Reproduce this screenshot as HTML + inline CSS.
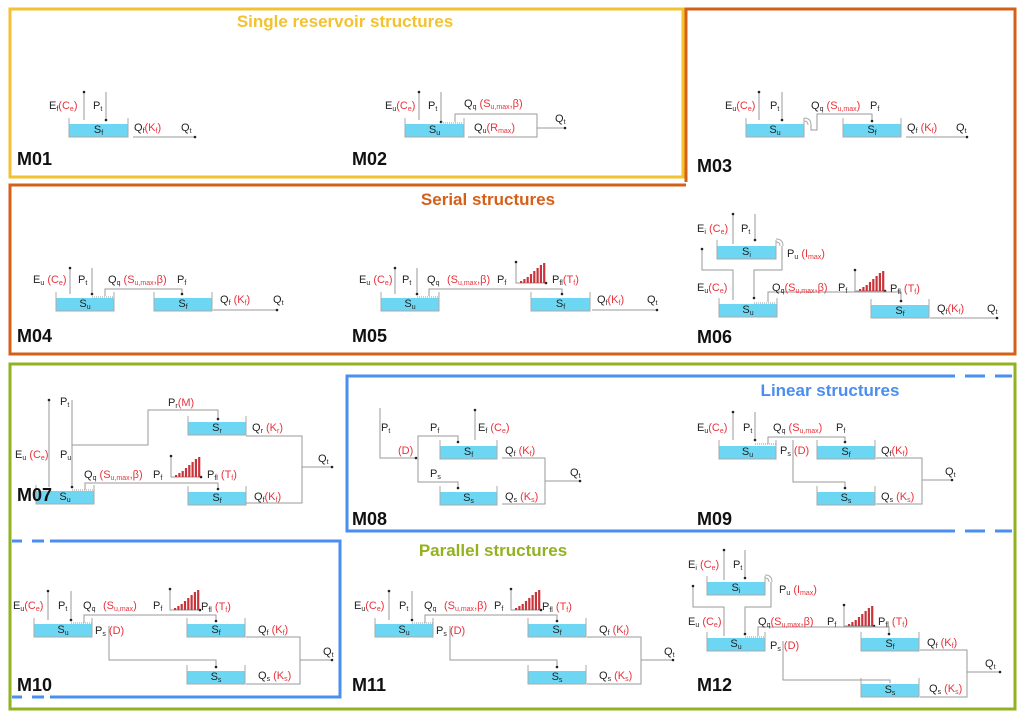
<!DOCTYPE html>
<html><head><meta charset="utf-8">
<style>
body{margin:0;width:1024px;height:719px;background:#fff;overflow:hidden;position:relative;font-family:"Liberation Sans",Arial,sans-serif}
svg{position:absolute;left:0;top:0}
.t{position:absolute;font-size:11px;line-height:14px;color:#222;white-space:nowrap}
.t i{font-style:normal;color:#e8323c}
.t sub{font-size:7px;vertical-align:-2px;line-height:0}
.m{position:absolute;font-size:18px;font-weight:bold;color:#111}
.h{position:absolute;font-size:17px;font-weight:bold;transform:translateX(-50%)}
.rl{position:absolute;font-size:11px;text-align:center;line-height:13px;color:#222}
.rl sub{font-size:7px;vertical-align:-2px;line-height:0}
</style></head>
<body>
<svg id="s" width="1024" height="719">
<polygon points="10,9 683,9 683,177 10,177" fill="none" stroke="#f2c230" stroke-width="3"/>
<polyline points="686,182 686,9 1015,9 1015,354 10,354 10,185 686,185" fill="none" stroke="#d4601a" stroke-width="3"/>
<rect x="10" y="364" width="1005" height="345" fill="none" stroke="#93b21f" stroke-width="3"/>
<polyline points="955,376 347,376 347,531 955,531" fill="none" stroke="#4a8ef0" stroke-width="3"/>
<path d="M965 376H985M995 376H1012M965 531H985M995 531H1012" stroke="#4a8ef0" stroke-width="3"/>
<polyline points="50,541 340,541 340,697 50,697" fill="none" stroke="#4a8ef0" stroke-width="3"/>
<path d="M12 541H22M32 541H44M12 697H22M32 697H44" stroke="#4a8ef0" stroke-width="3"/>
</svg>
<div class="h" style="left:345px;top:12px;color:#f2c230">Single reservoir structures</div>
<div class="h" style="left:488px;top:190px;color:#d4601a">Serial structures</div>
<div class="h" style="left:830px;top:381px;color:#4a8ef0">Linear structures</div>
<div class="h" style="left:493px;top:541px;color:#93b21f">Parallel structures</div>
<script>
const histHeights=[2,4,6,9,12,15,18,20];
const NS="http://www.w3.org/2000/svg";
const S=document.getElementById('s');
function svgEl(tag,attrs,name){const e=document.createElementNS(NS,tag);for(const k in attrs)e.setAttribute(k,attrs[k]);


S.appendChild(e);return e;}
function L(pts,name){svgEl('polyline',{points:pts.map(p=>p.join(',')).join(' '),fill:'none',stroke:'#9a9a9a','stroke-width':1},name||'flow-line');}
function dot(x,y){svgEl('circle',{cx:x,cy:y,r:1.3,fill:'#222'},'arrow-head');}
function V(x,y1,y2,up){L([[x,y1],[x,y2]],'flux-line');dot(x,up?y1:y2);}
function T(x,y,html,name){const d=document.createElement('div');d.className='t';d.style.left=x+'px';d.style.top=(y-7)+'px';d.innerHTML=html;


document.body.appendChild(d);}
function M(x,y,txt){const d=document.createElement('div');d.className='m';d.style.left=x+'px';d.style.top=(y-11)+'px';d.textContent=txt;


document.body.appendChild(d);}
function R(x,y,w,lab,h){h=h||13;
svgEl('rect',{x:x,y:y,width:w,height:h,fill:'#6dd7f3'},'reservoir-'+lab);
svgEl('polyline',{points:`${x},${y-6} ${x},${y+h} ${x+w},${y+h} ${x+w},${y-6}`,fill:'none',stroke:'#aaa','stroke-width':1},'reservoir-wall');
const d=document.createElement('div');d.className='rl';d.style.left=x+'px';d.style.width=w+'px';d.style.top=y+'px';d.innerHTML='S<sub>'+lab+'</sub>';


document.body.appendChild(d);}
function Hg(x,yb){L([[x,yb-21],[x,yb],[x+30,yb]],'lag-axis');dot(x,yb-21);dot(x+30,yb);
histHeights.forEach((v,i)=>{svgEl('rect',{x:x+4+i*3.3,y:yb-v,width:2.2,height:v,fill:'#c9343a'},'lag-bar');});}
function ov(x,y){svgEl('path',{d:`M${x} ${y} q7 0 7 7`,fill:'none',stroke:'#aaa'},'overflow');svgEl('path',{d:`M${x} ${y+3} q4 0 4 4`,fill:'none',stroke:'#aaa'},'overflow');}
function dots(x1,x2,y){svgEl('line',{x1:x1,x2:x2,y1:y,y2:y,stroke:'#999','stroke-dasharray':'1,1'},'threshold');}

// M01
R(69,124,59,'f');T(49,106,'E<sub>f</sub><i>(C<sub>e</sub>)</i>');T(93,106,'P<sub>t</sub>');
V(84,92,120,true);V(106,92,120,false);T(134,128,'Q<sub>f</sub><i>(K<sub>f</sub>)</i>');T(181,128,'Q<sub>t</sub>');
L([[133,137],[195,137]]);dot(195,137);M(17,160,'M01');
// M02
R(405,124,59,'u');T(385,106,'E<sub>u</sub><i>(C<sub>e</sub>)</i>');T(428,106,'P<sub>t</sub>');
V(419,92,120,true);V(441,92,122,false);dots(441,463,123);
T(464,104,'Q<sub>q</sub> <i>(S<sub>u,max</sub>,β)</i>');T(474,128,'Q<sub>u</sub><i>(R<sub>max</sub>)</i>');
L([[455,122],[455,114],[537,114],[537,137],[468,137]]);L([[537,128],[565,128]]);dot(565,128);T(555,119,'Q<sub>t</sub>');M(352,160,'M02');
// M03
R(746,124,58,'u');R(843,124,58,'f');T(725,106,'E<sub>u</sub><i>(C<sub>e</sub>)</i>');T(770,106,'P<sub>t</sub>');
V(759,92,120,true);V(782,92,120,false);ov(804,118);L([[811,125],[811,130],[817,130],[817,114],[872,114],[872,121]]);dot(872,121);
T(811,106,'Q<sub>q</sub> <i>(S<sub>u,max</sub>)</i>');T(870,106,'P<sub>f</sub>');T(907,128,'Q<sub>f</sub> <i>(K<sub>f</sub>)</i>');T(956,128,'Q<sub>t</sub>');
L([[906,137],[967,137]]);dot(967,137);M(697,167,'M03');
// M04
R(56,298,58,'u');R(154,298,58,'f');T(33,280,'E<sub>u</sub> <i>(C<sub>e</sub>)</i>');T(78,280,'P<sub>t</sub>');
V(70,268,294,true);V(92,268,294,false);dots(92,113,297);L([[105,296],[105,289],[182,289],[182,294]]);dot(182,294);
T(108,280,'Q<sub>q</sub> <i>(S<sub>u,max</sub>,β)</i>');T(177,280,'P<sub>f</sub>');T(220,300,'Q<sub>f</sub> <i>(K<sub>f</sub>)</i>');T(273,300,'Q<sub>t</sub>');
L([[213,310],[277,310]]);dot(277,310);M(17,337,'M04');
// M05
R(381,298,58,'u');R(531,298,59,'f');T(359,280,'E<sub>u</sub> <i>(C<sub>e</sub>)</i>');T(402,280,'P<sub>t</sub>');
V(395,268,294,true);V(417,268,294,false);dots(417,438,297);L([[429,296],[429,289],[562,289],[562,294]]);dot(562,294);
T(427,280,'Q<sub>q</sub>');T(447,280,'<i>(S<sub>u,max</sub>,β)</i>');T(497,280,'P<sub>f</sub>');Hg(516,283);T(552,280,'P<sub>fl</sub><i>(T<sub>f</sub>)</i>');
T(597,300,'Q<sub>f</sub><i>(K<sub>f</sub>)</i>');T(647,300,'Q<sub>t</sub>');L([[592,310],[657,310]]);dot(657,310);M(352,337,'M05');
// M06
R(717,246,59,'i');T(697,229,'E<sub>i</sub> <i>(C<sub>e</sub>)</i>');T(741,229,'P<sub>t</sub>');
V(733,214,244,true);V(755,214,240,false);ov(776,239);T(787,254,'P<sub>u</sub> <i>(I<sub>max</sub>)</i>');
L([[702,249],[702,270],[733,270],[733,300]]);dot(702,249);L([[782,246],[782,270],[754,270],[754,298]]);dot(754,298);
R(719,304,58,'u');T(697,288,'E<sub>u</sub><i>(C<sub>e</sub>)</i>');dots(754,776,303);
T(772,288,'Q<sub>q</sub><i>(S<sub>u,max</sub>,β)</i>');T(838,288,'P<sub>f</sub>');Hg(855,291);T(890,289,'P<sub>fl</sub> <i>(T<sub>f</sub>)</i>');
L([[768,302],[768,292],[901,292],[901,301]]);dot(901,301);R(871,305,58,'f');
T(937,309,'Q<sub>f</sub><i>(K<sub>f</sub>)</i>');T(987,309,'Q<sub>t</sub>');L([[930,318],[997,318]]);dot(997,318);M(697,338,'M06');
// M07
R(36,491,58,'u');R(188,422,58,'r');R(188,492,58,'f');T(15,455,'E<sub>u</sub> <i>(C<sub>e</sub>)</i>');T(60,402,'P<sub>t</sub>');T(60,455,'P<sub>u</sub>');
V(49,400,487,true);V(72,400,487,false);dots(72,93,490);T(168,403,'P<sub>r</sub><i>(M)</i>');
L([[72,445],[148,445],[148,410],[218,410],[218,419]]);dot(218,419);T(252,428,'Q<sub>r</sub> <i>(K<sub>r</sub>)</i>');
T(84,475,'Q<sub>q</sub> <i>(S<sub>u,max</sub>,β)</i>');T(153,475,'P<sub>f</sub>');Hg(171,477);T(207,475,'P<sub>fl</sub> <i>(T<sub>f</sub>)</i>');
L([[85,490],[85,483],[218,483],[218,489]]);dot(218,489);T(254,497,'Q<sub>f</sub><i>(K<sub>f</sub>)</i>');
L([[246,436],[302,436],[302,503],[246,503]]);L([[302,467],[332,467]]);dot(332,467);T(318,459,'Q<sub>t</sub>');M(17,496,'M07');
// M08
R(440,446,57,'f');R(440,492,57,'s');T(381,428,'P<sub>t</sub>');L([[380,408],[380,458],[416,458]]);dot(416,458);T(398,451,'<i>(D)</i>');
T(430,428,'P<sub>f</sub>');L([[418,458],[418,436],[458,436],[458,442]]);dot(458,442);
T(430,474,'P<sub>s</sub>');L([[418,458],[418,482],[458,482],[458,488]]);dot(458,488);
T(478,428,'E<sub>f</sub> <i>(C<sub>e</sub>)</i>');V(475,410,440,true);
T(505,451,'Q<sub>f</sub> <i>(K<sub>f</sub>)</i>');T(505,497,'Q<sub>s</sub> <i>(K<sub>s</sub>)</i>');
L([[502,458],[545,458],[545,504],[502,504]]);L([[545,481],[580,481]]);dot(580,481);T(570,473,'Q<sub>t</sub>');M(352,520,'M08');
// M09
R(719,446,57,'u');R(817,446,58,'f');R(817,492,58,'s');T(697,428,'E<sub>u</sub><i>(C<sub>e</sub>)</i>');T(743,428,'P<sub>t</sub>');
V(733,412,440,true);V(755,412,440,false);dots(755,776,444);
T(773,428,'Q<sub>q</sub> <i>(S<sub>u,max</sub>)</i>');T(836,428,'P<sub>f</sub>');L([[768,444],[768,437],[845,437],[845,442]]);dot(845,442);
T(780,451,'P<sub>s</sub> <i>(D)</i>');L([[793,440],[793,482],[845,482],[845,488]]);dot(845,488);
T(881,451,'Q<sub>f</sub><i>(K<sub>f</sub>)</i>');T(881,497,'Q<sub>s</sub> <i>(K<sub>s</sub>)</i>');
L([[876,458],[922,458],[922,504],[876,504]]);L([[922,480],[952,480]]);dot(952,480);T(945,472,'Q<sub>t</sub>');M(697,520,'M09');
// M10..M11
function par(o,beta){
 R(34+o,624,58,'u');R(187+o,624,58,'f');R(187+o,671,58,'s');
 T(13+o,606,'E<sub>u</sub><i>(C<sub>e</sub>)</i>');T(58+o,606,'P<sub>t</sub>');V(48+o,591,620,true);V(71+o,591,620,false);dots(71+o,92+o,623);
 T(83+o,606,'Q<sub>q</sub>');T(103+o,606,'<i>(S<sub>u,max</sub>'+(beta?',β':'')+')</i>');T(153+o,606,'P<sub>f</sub>');Hg(170+o,610);
 T(201+o,607,'P<sub>fl</sub> <i>(T<sub>f</sub>)</i>');L([[84+o,623],[84+o,615],[216+o,615],[216+o,621]]);dot(216+o,621);
 T(95+o,631,'P<sub>s</sub> <i>(D)</i>');L([[109+o,626],[109+o,660],[216+o,660],[216+o,667]]);dot(216+o,667);
 T(258+o,630,'Q<sub>f</sub> <i>(K<sub>f</sub>)</i>');T(258+o,676,'Q<sub>s</sub> <i>(K<sub>s</sub>)</i>');
 L([[246+o,637],[300+o,637],[300+o,684],[246+o,684]]);L([[300+o,660],[332+o,660]]);dot(332+o,660);T(323+o,652,'Q<sub>t</sub>');
}
par(0,false);M(17,686,'M10');par(341,true);M(352,686,'M11');
// M12
R(707,582,58,'i');T(688,565,'E<sub>i</sub> <i>(C<sub>e</sub>)</i>');T(733,565,'P<sub>t</sub>');V(724,550,580,true);V(745,550,578,false);ov(765,575);
T(779,590,'P<sub>u</sub> <i>(I<sub>max</sub>)</i>');L([[693,586],[693,607],[724,607],[724,636]]);dot(693,586);
L([[771,582],[771,607],[745,607],[745,634]]);dot(745,634);R(707,638,58,'u');dots(745,764,637);
T(688,622,'E<sub>u</sub> <i>(C<sub>e</sub>)</i>');T(758,622,'Q<sub>q</sub><i>(S<sub>u,max</sub>,β)</i>');T(827,622,'P<sub>f</sub>');Hg(844,626);
T(878,622,'P<sub>fl</sub> <i>(T<sub>f</sub>)</i>');L([[758,636],[758,627],[889,627],[889,634]]);dot(889,634);R(861,638,58,'f');R(861,684,58,'s');
T(770,646,'P<sub>s</sub> <i>(D)</i>');L([[783,641],[783,680],[890,680],[890,683]]);
T(927,643,'Q<sub>f</sub> <i>(K<sub>f</sub>)</i>');T(929,689,'Q<sub>s</sub> <i>(K<sub>s</sub>)</i>');
L([[920,650],[967,650],[967,697],[920,697]]);L([[967,672],[1000,672]]);dot(1000,672);T(985,664,'Q<sub>t</sub>');M(697,686,'M12');
</script>
</body></html>
